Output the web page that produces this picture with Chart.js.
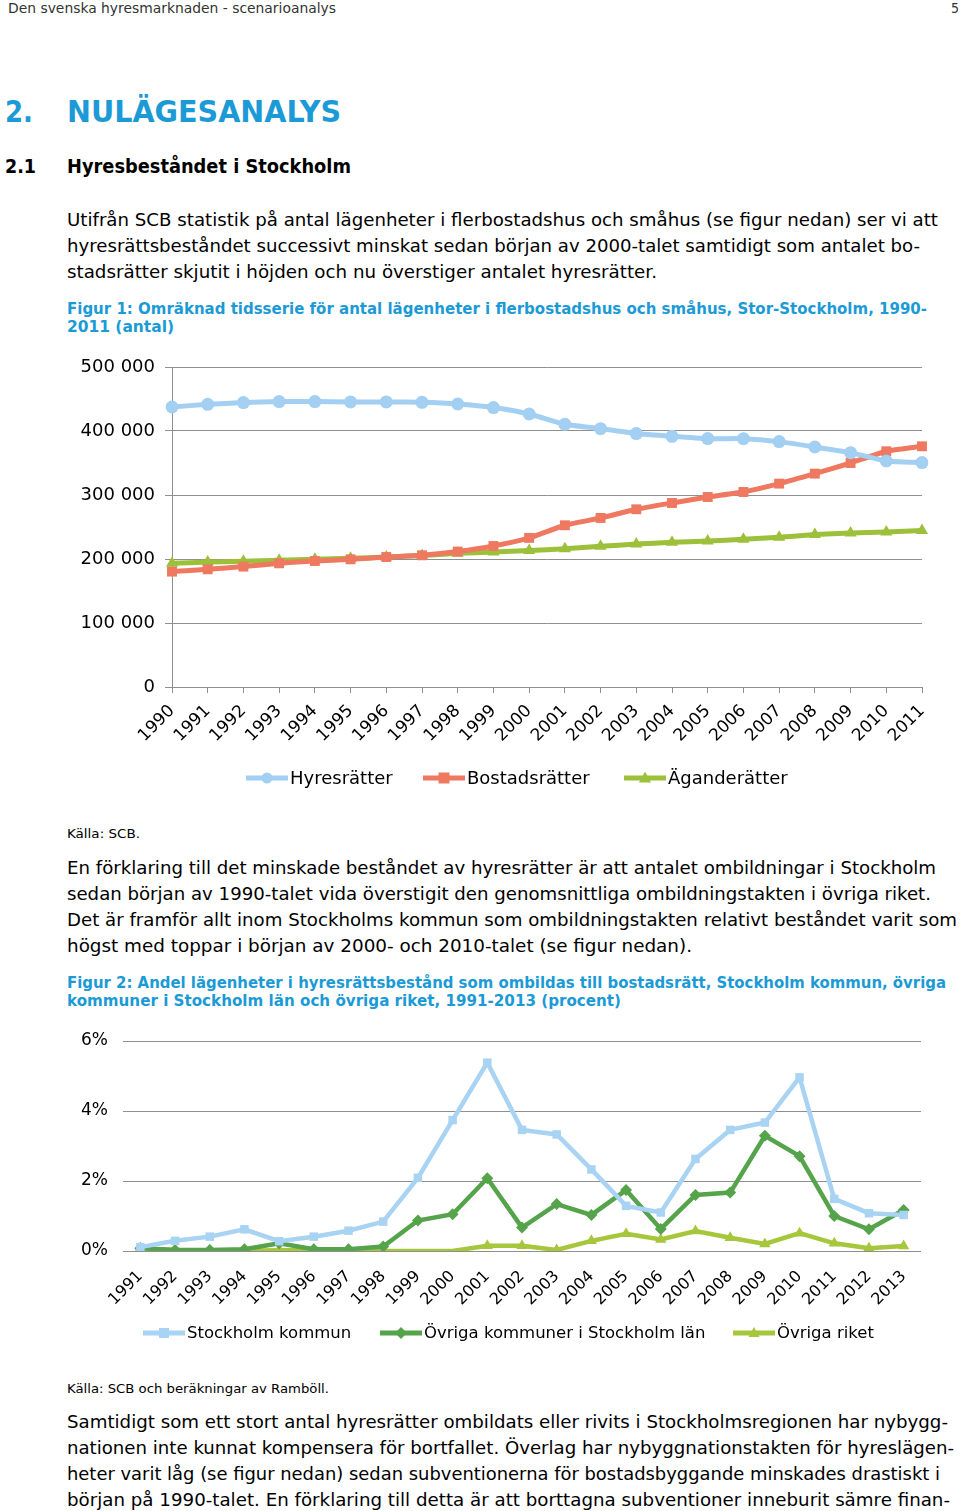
<!DOCTYPE html>
<html>
<head>
<meta charset="utf-8">
<script src="https://cdn.jsdelivr.net/npm/chart.js@4/dist/chart.umd.min.js"></script>
<style>
  html, body { margin:0; padding:0; background:#fff; }
  body { width:960px; height:1511px; position:relative; overflow:hidden; font-family:"DejaVu Sans", Verdana, sans-serif; color:#000; }
  .t { position:absolute; white-space:nowrap; transform-origin:0 50%; }
  canvas { position:absolute; left:0; }
</style>
</head>
<body>
<canvas id="c1" width="960" height="470" style="top:340px"></canvas>
<canvas id="c2" width="960" height="340" style="top:1020px"></canvas>
<script>
// ---------- Data: Figur 1 ----------
const years1 = ['1990','1991','1992','1993','1994','1995','1996','1997','1998','1999','2000','2001','2002','2003','2004','2005','2006','2007','2008','2009','2010','2011'];
const hyresratter = [437500,441700,444400,445900,445900,445400,445400,444800,442200,436600,426600,410500,403700,396000,391700,388100,388000,383400,375000,366200,353100,350600];
const bostadsratter = [180300,183900,188100,193300,196900,199500,203100,205800,211600,220300,233000,252700,264100,277700,287500,296900,304700,317800,333400,350000,368300,376100];
const aganderatter = [193300,195300,196400,198000,199500,201100,203100,205300,208900,210900,213100,216200,219800,223400,226100,228100,230800,233900,238100,240600,242200,244400];
const yTicks1 = [0,100000,200000,300000,400000,500000];

// ---------- Data: Figur 2 ----------
const years2 = ['1991','1992','1993','1994','1995','1996','1997','1998','1999','2000','2001','2002','2003','2004','2005','2006','2007','2008','2009','2010','2011','2012','2013'];
const stockholmKommun = [0.11,0.29,0.41,0.62,0.28,0.41,0.58,0.84,2.09,3.74,5.38,3.46,3.33,2.33,1.29,1.10,2.63,3.46,3.67,4.96,1.49,1.08,1.03];
const ovrigaKommuner = [0.08,0.03,0.03,0.05,0.22,0.05,0.05,0.13,0.87,1.05,2.08,0.67,1.34,1.03,1.74,0.63,1.60,1.67,3.29,2.71,1.00,0.62,1.17];
const ovrigaRiket = [0.08,0.03,0.01,0.01,0.02,0.02,0.02,0,0,0,0.15,0.15,0.03,0.29,0.49,0.33,0.57,0.38,0.20,0.51,0.22,0.08,0.14];
const yTicks2 = [0,2,4,6];

// ---------- Page text ----------
const BLUE = '#1b9ad6';
const texts = [
  ['Den svenska hyresmarknaden - scenarioanalys', 8, 7, 328, 14, 400, '#333', '"DejaVu Sans Condensed","DejaVu Sans"'],
  ['5', 951, 7, 8, 14, 400, '#333', '"DejaVu Sans Condensed","DejaVu Sans"'],
  ['2.', 5, 110, 28, 31, 700, BLUE, '"DejaVu Sans Condensed","DejaVu Sans"'],
  ['NULÄGESANALYS', 67, 110, 274, 31, 700, BLUE, '"DejaVu Sans Condensed","DejaVu Sans"'],
  ['2.1', 5, 166, 31, 19, 700, '#000', '"DejaVu Sans Condensed","DejaVu Sans"'],
  ['Hyresbeståndet i Stockholm', 67, 166, 284, 19, 700, '#000', '"DejaVu Sans Condensed","DejaVu Sans"'],
  ['Utifrån SCB statistik på antal lägenheter i flerbostadshus och småhus (se figur nedan) ser vi att', 67, 219, 871, 17, 400, '#000'],
  ['hyresrättsbeståndet successivt minskat sedan början av 2000-talet samtidigt som antalet bo-', 67, 245, 853, 17, 400, '#000'],
  ['stadsrätter skjutit i höjden och nu överstiger antalet hyresrätter.', 67, 271, 590, 17, 400, '#000'],
  ['Figur 1: Omräknad tidsserie för antal lägenheter i flerbostadshus och småhus, Stor-Stockholm, 1990-', 67, 308, 860, 15, 700, BLUE],
  ['2011 (antal)', 67, 326, 107, 15, 700, BLUE],
  ['Källa: SCB.', 67, 833, 73, 13, 400, '#000'],
  ['En förklaring till det minskade beståndet av hyresrätter är att antalet ombildningar i Stockholm', 67, 867, 869, 17, 400, '#000'],
  ['sedan början av 1990-talet vida överstigit den genomsnittliga ombildningstakten i övriga riket.', 67, 893, 864, 17, 400, '#000'],
  ['Det är framför allt inom Stockholms kommun som ombildningstakten relativt beståndet varit som', 67, 919, 890, 17, 400, '#000'],
  ['högst med toppar i början av 2000- och 2010-talet (se figur nedan).', 67, 945, 625, 17, 400, '#000'],
  ['Figur 2: Andel lägenheter i hyresrättsbestånd som ombildas till bostadsrätt, Stockholm kommun, övriga', 67, 982, 879, 15, 700, BLUE],
  ['kommuner i Stockholm län och övriga riket, 1991-2013 (procent)', 67, 1000, 554, 15, 700, BLUE],
  ['Källa: SCB och beräkningar av Ramböll.', 67, 1388, 262, 13, 400, '#000'],
  ['Samtidigt som ett stort antal hyresrätter ombildats eller rivits i Stockholmsregionen har nybygg-', 67, 1421, 881, 17, 400, '#000'],
  ['nationen inte kunnat kompensera för bortfallet. Överlag har nybyggnationstakten för hyreslägen-', 67, 1447, 887, 17, 400, '#000'],
  ['heter varit låg (se figur nedan) sedan subventionerna för bostadsbyggande minskades drastiskt i', 67, 1473, 873, 17, 400, '#000'],
  ['början på 1990-talet. En förklaring till detta är att borttagna subventioner inneburit sämre finan-', 67, 1499, 883, 17, 400, '#000']
];
texts.forEach(([txt, x, cy, tw, fs, fw, col, fam]) => {
  const d = document.createElement('div');
  d.className = 't';
  d.textContent = txt;
  const lh = Math.round(fs * 1.3);
  d.style.left = x + 'px';
  d.style.top = (cy - lh / 2 + 0.5) + 'px';
  d.style.fontSize = fs + 'px';
  d.style.lineHeight = lh + 'px';
  d.style.fontWeight = fw;
  d.style.color = col;
  if (fam) d.style.fontFamily = fam;
  document.body.appendChild(d);
  const w = d.getBoundingClientRect().width;
  if (w > 0) d.style.transform = 'scaleX(' + (tw / w) + ')';
});

// ---------- Legend plugin (line + marker + label) ----------
function drawMarker(ctx, style, x, y, r, color) {
  ctx.fillStyle = color;
  ctx.beginPath();
  if (style === 'circle') { ctx.arc(x, y, r, 0, Math.PI * 2); }
  else if (style === 'rect') { ctx.rect(x - r, y - r, 2 * r, 2 * r); }
  else if (style === 'rectRot') { ctx.moveTo(x, y - r * 1.2); ctx.lineTo(x + r * 1.2, y); ctx.lineTo(x, y + r * 1.2); ctx.lineTo(x - r * 1.2, y); ctx.closePath(); }
  else if (style === 'triangle') { ctx.moveTo(x, y - r * 1.2); ctx.lineTo(x + r * 1.1, y + r * 0.8); ctx.lineTo(x - r * 1.1, y + r * 0.8); ctx.closePath(); }
  ctx.fill();
}
const lineLegend = {
  id: 'lineLegend',
  afterDraw(chart, args, opts) {
    const ctx = chart.ctx;
    ctx.save();
    ctx.font = opts.font;
    ctx.textBaseline = 'middle';
    ctx.textAlign = 'left';
    chart.data.datasets.forEach((ds, i) => {
      const x = opts.xs[i], y = opts.y;
      ctx.strokeStyle = ds.borderColor;
      ctx.lineWidth = opts.lineWidth;
      ctx.beginPath(); ctx.moveTo(x, y); ctx.lineTo(x + 42, y); ctx.stroke();
      drawMarker(ctx, ds.pointStyle, x + 21, y, opts.markerR, ds.borderColor);
      ctx.fillStyle = '#000';
      ctx.fillText(ds.label, x + 44, y + 1);
    });
    ctx.restore();
  }
};

const GRID = '#8f8f8f';
const FONT = '"DejaVu Sans", Verdana, sans-serif';

// ---------- Chart 1 ----------
const C1_BLUE = '#a3cff2', C1_RED = '#ee7860', C1_GREEN = '#9cc03a';
new Chart(document.getElementById('c1'), {
  type: 'line',
  data: {
    labels: years1,
    datasets: [
      { label: 'Hyresrätter', data: hyresratter, borderColor: C1_BLUE, backgroundColor: C1_BLUE, pointStyle: 'circle', pointRadius: 6.5, borderWidth: 5, tension: 0.15, pointBorderWidth: 0 },
      { label: 'Bostadsrätter', data: bostadsratter, borderColor: C1_RED, backgroundColor: C1_RED, pointStyle: 'rect', pointRadius: 7, borderWidth: 5, tension: 0.15, pointBorderWidth: 0 },
      { label: 'Äganderätter', data: aganderatter, borderColor: C1_GREEN, backgroundColor: C1_GREEN, pointStyle: 'triangle', pointRadius: 7, borderWidth: 5, tension: 0.15, pointBorderWidth: 0 }
    ]
  },
  options: {
    responsive: false, animation: false, events: [],
    layout: { padding: { top: 27, right: 38, left: 0, bottom: 0 } },
    plugins: {
      legend: { display: false }, tooltip: { enabled: false },
      lineLegend: { xs: [246, 423, 624], y: 438, font: '18px ' + FONT, lineWidth: 5, markerR: 5.5 }
    },
    scales: {
      x: {
        offset: false,
        grid: { display: true, drawOnChartArea: false, drawTicks: true, tickLength: 6, color: GRID },
        border: { display: true, color: GRID, width: 1 },
        ticks: { color: '#000', font: { family: FONT, size: 17 }, minRotation: 45, maxRotation: 45, autoSkip: false, padding: 8 },
        afterFit: s => { s.height = 123; }
      },
      y: {
        min: 0, max: 500000,
        afterBuildTicks: s => { s.ticks = yTicks1.map(v => ({ value: v })); },
        grid: { color: GRID, lineWidth: 1, drawTicks: true, tickLength: 7 },
        border: { display: true, color: GRID, width: 1 },
        ticks: { color: '#000', font: { family: FONT, size: 18 }, padding: 10,
          callback: v => v === 0 ? '0' : String(v).replace(/\B(?=(\d{3})+(?!\d))/g, ' ') },
        afterFit: s => { s.width = 172; s.paddingTop = 0; s.paddingBottom = 0; }
      }
    }
  },
  plugins: [lineLegend]
});

// ---------- Chart 2 ----------
const C2_BLUE = '#a8d3f3', C2_DGREEN = '#55a34a', C2_LGREEN = '#a6c63c';
new Chart(document.getElementById('c2'), {
  type: 'line',
  data: {
    labels: years2,
    datasets: [
      { label: 'Stockholm kommun', data: stockholmKommun, borderColor: C2_BLUE, backgroundColor: C2_BLUE, pointStyle: 'rect', pointRadius: 6, borderWidth: 4.5, tension: 0, pointBorderWidth: 0 },
      { label: 'Övriga kommuner i Stockholm län', data: ovrigaKommuner, borderColor: C2_DGREEN, backgroundColor: C2_DGREEN, pointStyle: 'rectRot', pointRadius: 6, borderWidth: 4.5, tension: 0, pointBorderWidth: 0 },
      { label: 'Övriga riket', data: ovrigaRiket, borderColor: C2_LGREEN, backgroundColor: C2_LGREEN, pointStyle: 'triangle', pointRadius: ctx => (ctx.raw === 0 ? 0 : 6.5), borderWidth: 4.5, tension: 0, pointBorderWidth: 0 }
    ]
  },
  options: {
    responsive: false, animation: false, events: [],
    layout: { padding: { top: 21, right: 39, left: 0, bottom: 0 } },
    plugins: {
      legend: { display: false }, tooltip: { enabled: false },
      lineLegend: { xs: [143, 380, 733], y: 313, font: '16.5px ' + FONT, lineWidth: 5, markerR: 5 }
    },
    scales: {
      x: {
        offset: true,
        grid: { display: false },
        border: { display: false },
        ticks: { color: '#000', font: { family: FONT, size: 16 }, minRotation: 45, maxRotation: 45, autoSkip: false, padding: 8 },
        afterFit: s => { s.height = 109; }
      },
      y: {
        min: 0, max: 6,
        afterBuildTicks: s => { s.ticks = yTicks2.map(v => ({ value: v })); },
        grid: { color: GRID, lineWidth: 1, drawTicks: false },
        border: { display: false },
        ticks: { color: '#000', font: { family: FONT, size: 17 }, padding: 15, callback: v => v + '%' },
        afterFit: s => { s.width = 123; s.paddingTop = 0; s.paddingBottom = 0; }
      }
    }
  },
  plugins: [lineLegend]
});
</script>
</body>
</html>
